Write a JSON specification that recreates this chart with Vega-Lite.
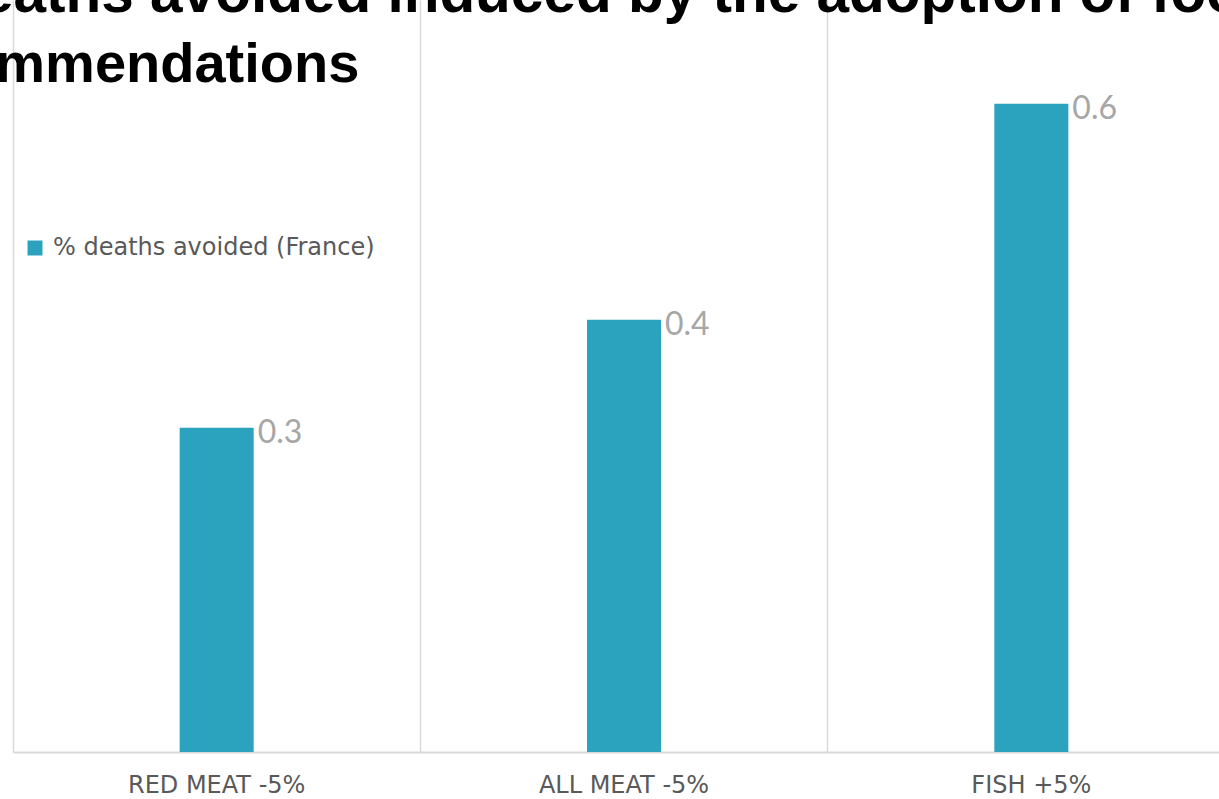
{
  "$schema": "https://vega.github.io/schema/vega-lite/v6.json",
  "autosize": {"type": "none"},
  "padding": {"left": 13, "top": 0, "right": 0, "bottom": 47},
  "width": 1206,
  "height": 752,
  "background": "white",
  "title": {
    "text": "% deaths avoided induced by the adoption of food",
    "subtitle": "recommendations",
    "anchor": "start",
    "frame": "group",
    "font": "Liberation Sans",
    "fontSize": 58.5,
    "fontWeight": "bold",
    "color": "#000000",
    "subtitleFont": "Liberation Sans",
    "subtitleFontSize": 56,
    "subtitleFontWeight": "bold",
    "subtitleColor": "#000000",
    "subtitlePadding": 12,
    "baseline": "alphabetic",
    "offset": 0,
    "limit": 3000,
    "dx": -136,
    "dy": 140
  },
  "data": {
    "values": [
      {"category": "RED MEAT -5%", "value": 0.3, "series": "% deaths avoided (France)"},
      {"category": "ALL MEAT -5%", "value": 0.4, "series": "% deaths avoided (France)"},
      {"category": "FISH +5%", "value": 0.6, "series": "% deaths avoided (France)"}
    ]
  },
  "config": {
    "view": {"stroke": null},
    "font": "Lato"
  },
  "encoding": {
    "x": {
      "field": "category",
      "type": "nominal",
      "sort": null,
      "scale": {"range": [0, 1222], "paddingInner": 0, "paddingOuter": 0},
      "axis": {
        "title": null,
        "labelAngle": 0,
        "labelFont": "DejaVu Sans",
        "labelFontSize": 24,
        "labelColor": "#595959",
        "labelPadding": 21,
        "ticks": false,
        "grid": true,
        "bandPosition": 0,
        "gridColor": "#d9d9d9",
        "gridWidth": 1.5,
        "domain": true,
        "domainColor": "#d9d9d9",
        "domainWidth": 2
      }
    },
    "y": {
      "field": "value",
      "type": "quantitative",
      "scale": {"domain": [0, 0.696], "nice": false},
      "axis": null
    }
  },
  "layer": [
    {
      "mark": {"type": "bar", "width": 74},
      "encoding": {
        "color": {
          "field": "series",
          "type": "nominal",
          "scale": {"range": ["#2ba3bf"]},
          "legend": {
            "title": null,
            "orient": "none",
            "legendX": 10,
            "legendY": 236,
            "symbolType": "square",
            "symbolSize": 225,
            "symbolStrokeWidth": 0,
            "labelFont": "DejaVu Sans",
            "labelFontSize": 24,
            "labelLimit": 600,
            "labelColor": "#595959",
            "labelOffset": 6
          }
        }
      }
    },
    {
      "mark": {
        "type": "text",
        "align": "left",
        "baseline": "alphabetic",
        "dx": 41,
        "dy": 15,
        "fontSize": 32,
        "color": "#a6a6a6",
        "font": "Lato"
      },
      "encoding": {
        "text": {"field": "value", "type": "quantitative", "format": ".1f"}
      }
    }
  ]
}
